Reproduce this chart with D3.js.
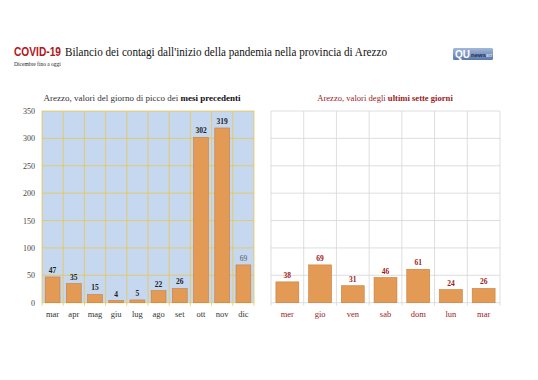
<!DOCTYPE html>
<html>
<head>
<meta charset="utf-8">
<script src="https://cdn.jsdelivr.net/npm/d3@7"></script>
<style>
  body { margin: 0; background: #fff; }
  svg { display: block; }
</style>
</head>
<body>
<div id="chart"></div>
<script>
// dati
var mesi = ["mar", "apr", "mag", "giu", "lug", "ago", "set", "ott", "nov", "dic"];
var piccoMesi = [47, 35, 15, 4, 5, 22, 26, 302, 319, 69];
var giorni = ["mer", "gio", "ven", "sab", "dom", "lun", "mar"];
var ultimiGiorni = [38, 69, 31, 46, 61, 24, 26];
var yTicks = [0, 50, 100, 150, 200, 250, 300, 350];

var W = 538, H = 380;
var serif = "'Liberation Serif', 'DejaVu Serif', serif";
var sans = "'Liberation Sans', 'Open Sans', sans-serif";
var barFill = "#e29a55", barStroke = "#c97d3a";
var darkRed = "#9c1b1b";

var svg = d3.select("#chart").append("svg")
    .attr("width", W).attr("height", H);

// titolo
var covid = svg.append("text").attr("x", 14).attr("y", 56)
    .attr("font-family", sans).attr("font-weight", "bold")
    .attr("font-size", 12).attr("fill", "#b3161b")
    .attr("textLength", 47).attr("lengthAdjust", "spacingAndGlyphs")
    .text("COVID-19");
svg.append("text")
    .attr("x", 65).attr("y", 56)
    .attr("font-family", serif).attr("font-size", 13).attr("fill", "#111")
    .attr("textLength", 322).attr("lengthAdjust", "spacingAndGlyphs")
    .text("Bilancio dei contagi dall'inizio della pandemia nella provincia di Arezzo");

svg.append("text")
    .attr("x", 14).attr("y", 66)
    .attr("font-family", serif).attr("font-size", 5.5).attr("fill", "#222")
    .text("Dicembre fino a oggi");

// logo
var logo = svg.append("g").attr("transform", "translate(453,48)");
var grad = svg.append("defs").append("linearGradient")
    .attr("id", "lg").attr("x1", 0).attr("y1", 0).attr("x2", 0).attr("y2", 1);
grad.append("stop").attr("offset", "0%").attr("stop-color", "#a3b8da");
grad.append("stop").attr("offset", "100%").attr("stop-color", "#5a78a8");
logo.append("rect").attr("width", 40).attr("height", 12).attr("rx", 1.5)
    .attr("fill", "url(#lg)");
logo.append("text").attr("x", 2).attr("y", 10)
    .attr("font-family", sans).attr("font-weight", "bold").attr("font-size", 10)
    .attr("fill", "#fff").text("QU");
logo.append("text").attr("x", 18).attr("y", 9)
    .attr("font-family", sans).attr("font-weight", "bold").attr("font-size", 6)
    .attr("fill", "#1d2f55").text("news");
logo.append("text").attr("x", 33).attr("y", 9)
    .attr("font-family", sans).attr("font-size", 4.5)
    .attr("fill", "#e6ecf6").text("arz");

var y = d3.scaleLinear().domain([0, 350]).range([302.7, 111]);

function drawChart(opts) {
    var x = d3.scaleBand().domain(opts.cats)
        .range([opts.x0, opts.x1]).paddingInner(0.3).paddingOuter(0.15);
    var g = svg.append("g");

    g.append("rect")
        .attr("x", opts.x0).attr("y", y(350))
        .attr("width", opts.x1 - opts.x0).attr("height", y(0) - y(350))
        .attr("fill", opts.bg);

    // griglia orizzontale
    g.selectAll(".hg").data(yTicks).join("line")
        .attr("x1", opts.x0).attr("x2", opts.x1)
        .attr("y1", function(d) { return y(d); })
        .attr("y2", function(d) { return y(d); })
        .attr("stroke", opts.grid).attr("stroke-width", 0.8);

    // griglia verticale ai confini delle categorie
    var step = (opts.x1 - opts.x0) / opts.cats.length;
    var edges = d3.range(opts.cats.length + 1).map(function(i) { return opts.x0 + i * step; });
    g.selectAll(".vg").data(edges).join("line")
        .attr("x1", function(d) { return d; }).attr("x2", function(d) { return d; })
        .attr("y1", y(350)).attr("y2", y(0) + 3)
        .attr("stroke", opts.grid).attr("stroke-width", 0.8);

    var data = opts.cats.map(function(c, i) { return { c: c, v: opts.vals[i], i: i }; });

    g.selectAll(".bar").data(data).join("rect")
        .attr("x", function(d) { return x(d.c); })
        .attr("y", function(d) { return y(d.v); })
        .attr("width", x.bandwidth())
        .attr("height", function(d) { return y(0) - y(d.v); })
        .attr("fill", barFill).attr("stroke", barStroke).attr("stroke-width", 0.6);

    g.selectAll(".lab").data(data).join("text")
        .attr("x", function(d) { return x(d.c) + x.bandwidth() / 2; })
        .attr("y", function(d) { return y(d.v) - 4; })
        .attr("text-anchor", "middle")
        .attr("font-family", serif).attr("font-size", 7.5)
        .attr("font-weight", function(d) { return opts.lightLast && d.i === data.length - 1 ? "normal" : "bold"; })
        .attr("fill", function(d) { return opts.lightLast && d.i === data.length - 1 ? "#555" : opts.labColor; })
        .text(function(d) { return d.v; });

    g.selectAll(".xl").data(opts.cats).join("text")
        .attr("x", function(d) { return x(d) + x.bandwidth() / 2; })
        .attr("y", 317)
        .attr("text-anchor", "middle")
        .attr("font-family", serif).attr("font-size", 8.5)
        .attr("fill", opts.xColor)
        .text(function(d) { return d; });

    if (opts.yAxis) {
        var ax = g.append("g").attr("transform", "translate(" + (opts.x0 - 4) + ",0)")
            .call(d3.axisLeft(y).tickValues(yTicks).tickSize(0).tickPadding(3));
        ax.select(".domain").remove();
        ax.selectAll("text").attr("font-family", serif).attr("font-size", 8).attr("fill", "#444");
    }

    var st = g.append("text")
        .attr("x", opts.titleX).attr("y", 101)
        .attr("text-anchor", "middle")
        .attr("font-family", serif).attr("font-size", opts.titleSize).attr("fill", opts.titleColor);
    st.append("tspan").text(opts.title[0]);
    st.append("tspan").attr("font-weight", "bold").attr("fill", opts.boldColor).text(opts.title[1]);
}

drawChart({
    cats: mesi, vals: piccoMesi, x0: 42, x1: 254,
    bg: "#c6d8f0", grid: "#e9c64e", labColor: "#222", xColor: "#333",
    yAxis: true, lightLast: true,
    titleX: 142, titleSize: 9, titleColor: "#333", boldColor: "#111",
    title: ["Arezzo, valori del giorno di picco dei ", "mesi precedenti"]
});

drawChart({
    cats: giorni, vals: ultimiGiorni, x0: 271, x1: 500,
    bg: "#ffffff", grid: "#d6d6d6", labColor: darkRed, xColor: darkRed,
    yAxis: false, lightLast: false,
    titleX: 385, titleSize: 8.6, titleColor: darkRed, boldColor: darkRed,
    title: ["Arezzo, valori degli ", "ultimi sette giorni"]
});
</script>
</body>
</html>
